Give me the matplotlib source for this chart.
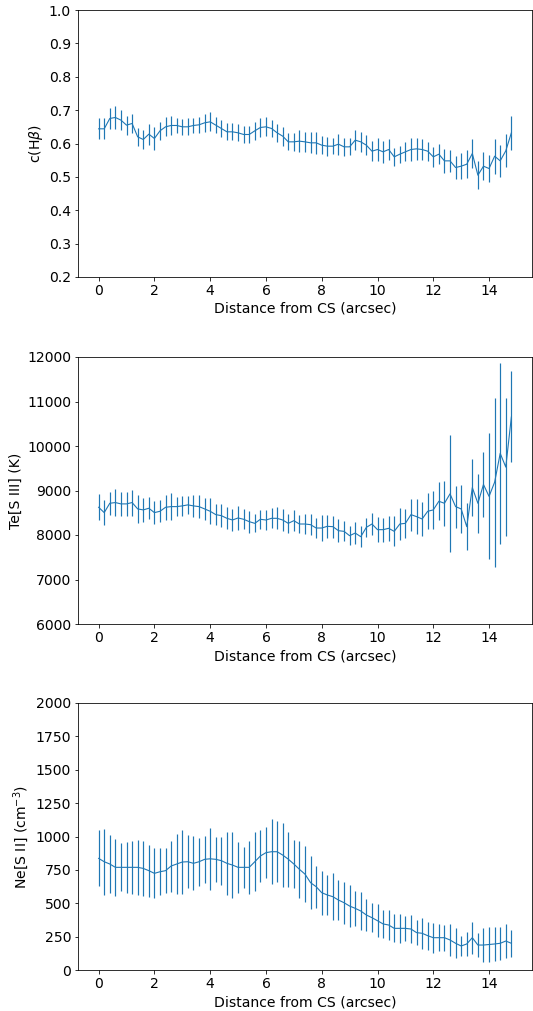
import matplotlib
matplotlib.use("Agg")
import matplotlib.pyplot as plt

# Distance from the central star along the slit (arcsec)
distance = [0.0, 0.2, 0.4, 0.6, 0.8, 1.0, 1.2, 1.4, 1.6, 1.8,
            2.0, 2.2, 2.4, 2.6, 2.8, 3.0, 3.2, 3.4, 3.6, 3.8,
            4.0, 4.2, 4.4, 4.6, 4.8, 5.0, 5.2, 5.4, 5.6, 5.8,
            6.0, 6.2, 6.4, 6.6, 6.8, 7.0, 7.2, 7.4, 7.6, 7.8,
            8.0, 8.2, 8.4, 8.6, 8.8, 9.0, 9.2, 9.4, 9.6, 9.8,
            10.0, 10.2, 10.4, 10.6, 10.8, 11.0, 11.2, 11.4, 11.6, 11.8,
            12.0, 12.2, 12.4, 12.6, 12.8, 13.0, 13.2, 13.4, 13.6, 13.8,
            14.0, 14.2, 14.4, 14.6, 14.8]

# Logarithmic extinction coefficient c(Hbeta)
chb = [0.644, 0.644, 0.675, 0.678, 0.670, 0.655, 0.660, 0.620, 0.612, 0.628,
       0.615, 0.638, 0.650, 0.654, 0.654, 0.650, 0.650, 0.654, 0.656, 0.662,
       0.665, 0.655, 0.645, 0.635, 0.635, 0.632, 0.627, 0.627, 0.638, 0.648,
       0.650, 0.645, 0.632, 0.622, 0.605, 0.605, 0.607, 0.605, 0.602, 0.602,
       0.595, 0.592, 0.592, 0.598, 0.590, 0.590, 0.610, 0.605, 0.595, 0.577,
       0.582, 0.575, 0.582, 0.560, 0.568, 0.575, 0.582, 0.584, 0.582, 0.577,
       0.560, 0.568, 0.548, 0.548, 0.528, 0.532, 0.538, 0.570, 0.505, 0.532,
       0.525, 0.562, 0.548, 0.578, 0.632]
chb_err = [0.032, 0.032, 0.0325, 0.0335, 0.030, 0.0285, 0.029, 0.026, 0.0285, 0.0315,
           0.0335, 0.0275, 0.028, 0.0285, 0.0235, 0.024, 0.025, 0.0235, 0.0235, 0.0265,
           0.029, 0.025, 0.026, 0.025, 0.026, 0.025, 0.026, 0.026, 0.0265, 0.029,
           0.028, 0.026, 0.0265, 0.0285, 0.025, 0.0265, 0.0325, 0.030, 0.031, 0.0325,
           0.0265, 0.028, 0.0245, 0.031, 0.026, 0.025, 0.030, 0.029, 0.030, 0.030,
           0.034, 0.0325, 0.031, 0.0275, 0.025, 0.0285, 0.034, 0.0335, 0.031, 0.0285,
           0.030, 0.030, 0.035, 0.0335, 0.035, 0.039, 0.042, 0.0435, 0.0415, 0.0415,
           0.0415, 0.0525, 0.047, 0.049, 0.050]

# Electron temperature from [S III] (K)
te = [8623, 8503, 8713, 8729, 8699, 8699, 8729, 8586, 8564, 8601,
      8503, 8533, 8623, 8638, 8638, 8654, 8677, 8654, 8638, 8586,
      8533, 8458, 8435, 8375, 8337, 8383, 8353, 8300, 8262, 8353,
      8337, 8375, 8375, 8337, 8262, 8322, 8247, 8247, 8232, 8157,
      8157, 8195, 8187, 8097, 8082, 7984, 8044, 7962, 8172, 8247,
      8120, 8120, 8150, 8082, 8247, 8262, 8458, 8413, 8360, 8533,
      8564, 8758, 8713, 8925, 8638, 8586, 8187, 9065, 8713, 9135,
      8868, 9187, 9835, 9526, 10653]
te_err = [293, 286, 256, 301, 267, 274, 293, 308, 267, 252,
          252, 244, 282, 301, 218, 226, 207, 244, 259, 256,
          290, 233, 256, 244, 252, 263, 229, 244, 199, 207,
          229, 226, 244, 237, 218, 233, 199, 218, 237, 214,
          293, 256, 244, 263, 222, 214, 248, 241, 214, 244,
          282, 271, 282, 335, 357, 327, 357, 395, 376, 406,
          424, 430, 500, 1316, 470, 545, 530, 632, 658, 724,
          1418, 1899, 2030, 1542, 1023]

# Electron density from [S II] (cm^-3)
ne = [836, 811, 794, 769, 769, 769, 769, 769, 761, 744,
      724, 736, 744, 779, 794, 809, 811, 799, 811, 829,
      833, 829, 819, 799, 786, 769, 769, 769, 811, 854,
      879, 886, 886, 861, 830, 794, 754, 718, 654, 624,
      579, 562, 549, 524, 504, 479, 462, 442, 412, 392,
      369, 345, 337, 312, 312, 312, 307, 280, 275, 257,
      242, 242, 242, 225, 200, 180, 195, 242, 187, 187,
      191, 195, 200, 217, 200]
ne_err = [210, 246, 216, 216, 180, 193, 200, 206, 208, 196,
          187, 176, 167, 191, 225, 237, 200, 202, 181, 175,
          231, 168, 181, 235, 246, 191, 156, 197, 222, 196,
          192, 242, 228, 237, 206, 180, 212, 212, 200, 158,
          165, 150, 175, 152, 158, 154, 129, 146, 119, 110,
          125, 102, 112, 106, 110, 96, 102, 96, 116, 104,
          112, 100, 96, 119, 112, 77, 87, 119, 87, 125,
          129, 127, 122, 125, 100]

x_label = "Distance from CS (arcsec)"
panels = [
    (chb, chb_err, r"c(H$\beta$)", (0.2, 1.0), [0.2, 0.3, 0.4, 0.5, 0.6, 0.7, 0.8, 0.9, 1.0],
     ["0.2", "0.3", "0.4", "0.5", "0.6", "0.7", "0.8", "0.9", "1.0"]),
    (te, te_err, "Te[S III] (K)", (6000, 12000), [6000, 7000, 8000, 9000, 10000, 11000, 12000],
     ["6000", "7000", "8000", "9000", "10000", "11000", "12000"]),
    (ne, ne_err, r"Ne[S II] (cm$^{-3}$)", (0, 2000), [0, 250, 500, 750, 1000, 1250, 1500, 1750, 2000],
     ["0", "250", "500", "750", "1000", "1250", "1500", "1750", "2000"]),
]

DPI = 72
W, H = 533, 1011
fig = plt.figure(figsize=(W / DPI, H / DPI), dpi=DPI)

left, right = 78, 532
tops = [10, 357, 703]
ax_h = 267
fs = 14

for (vals, errs, ylab, ylim, yticks, yticklabels), top in zip(panels, tops):
    ax = fig.add_axes([left / W, (H - top - ax_h) / H, (right - left) / W, ax_h / H])
    ax.errorbar(distance, vals, yerr=errs, color="#1f77b4", capsize=0,
                linewidth=1.1, elinewidth=1.2)
    ax.set_ylim(*ylim)
    ax.set_yticks(yticks)
    ax.set_yticklabels(yticklabels)
    ax.set_xticks([0, 2, 4, 6, 8, 10, 12, 14])
    ax.set_xlabel(x_label, fontsize=fs)
    ax.set_ylabel(ylab, fontsize=fs)
    ax.tick_params(labelsize=fs)

fig.savefig("out.png", dpi=DPI)
